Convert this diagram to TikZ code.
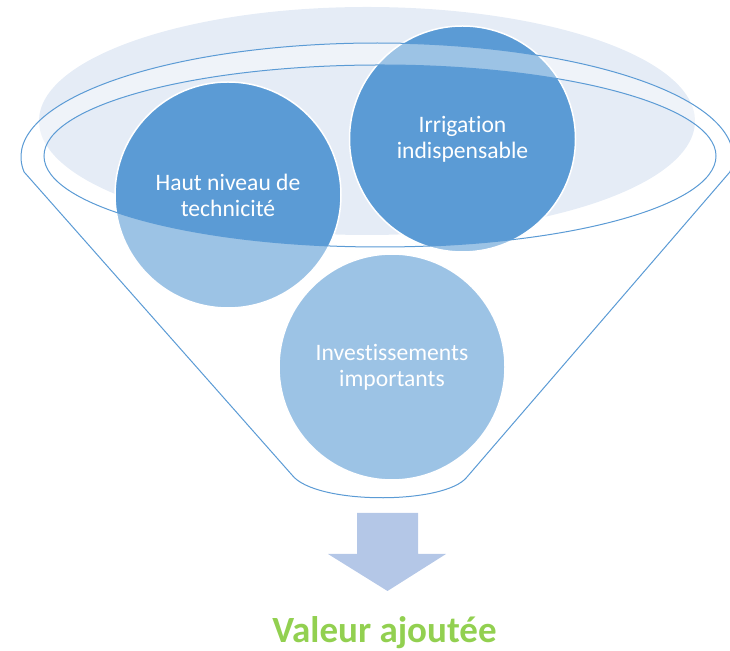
\documentclass[tikz,border=0pt]{standalone}
\usepackage{fontspec}
\setmainfont{Carlito}[Ligatures=NoCommon]
\usetikzlibrary{positioning}

\definecolor{bubble}{HTML}{5B9BD5}
\definecolor{haze}{HTML}{E5ECF6}
\definecolor{flow}{HTML}{B4C7E7}
\definecolor{gain}{HTML}{92D050}

\begin{document}
\begin{tikzpicture}[x=1pt, y=1pt,
    bubble/.style={circle, minimum size=226pt, fill=bubble, draw=white,
        line width=1.5pt, text=white, align=center,
        font=\fontsize{23.6}{26}\selectfont},
    rim/.style={draw=bubble, line width=1pt}]
\useasboundingbox (0,0) rectangle (730,650);

\fill[haze] (367,529) ellipse[x radius=328, y radius=114];

\node[bubble] (tech) at (228,455) {Haut niveau de\\technicité};
\node[bubble] (irrig) at (462.5,511) {Irrigation\\indispensable};
\node[bubble] (invest) at (392,283) {Investissements\\importants};

\coordinate (lefttop) at (24.1,478);
\coordinate (rightlow) at (467,173);
\coordinate (leftlow) at (292,175);

\fill[white, fill opacity=0.4, even odd rule]
    (lefttop) arc[start angle=187.56, end angle=-7.56, x radius=356, y radius=114]
    -- (rightlow) .. controls (445,145) and (315,145) .. (leftlow) -- cycle
    (380,494) ellipse[x radius=336, y radius=91];
\draw[rim]
    (lefttop) arc[start angle=187.56, end angle=-7.56, x radius=356, y radius=114]
    -- (rightlow) .. controls (445,145) and (315,145) .. (leftlow) -- cycle;
\draw[rim] (380,494) ellipse[x radius=336, y radius=91];

\fill[flow] (357,137) -- (418,137) -- (418,96) -- (446,96) -- (387.5,59)
    -- (328,96) -- (357,96) -- cycle;

\node[anchor=base, text=gain, font=\fontsize{37}{40}\selectfont\bfseries]
    (valeur) at (384.5,8) {Valeur ajoutée};
\end{tikzpicture}
\end{document}
